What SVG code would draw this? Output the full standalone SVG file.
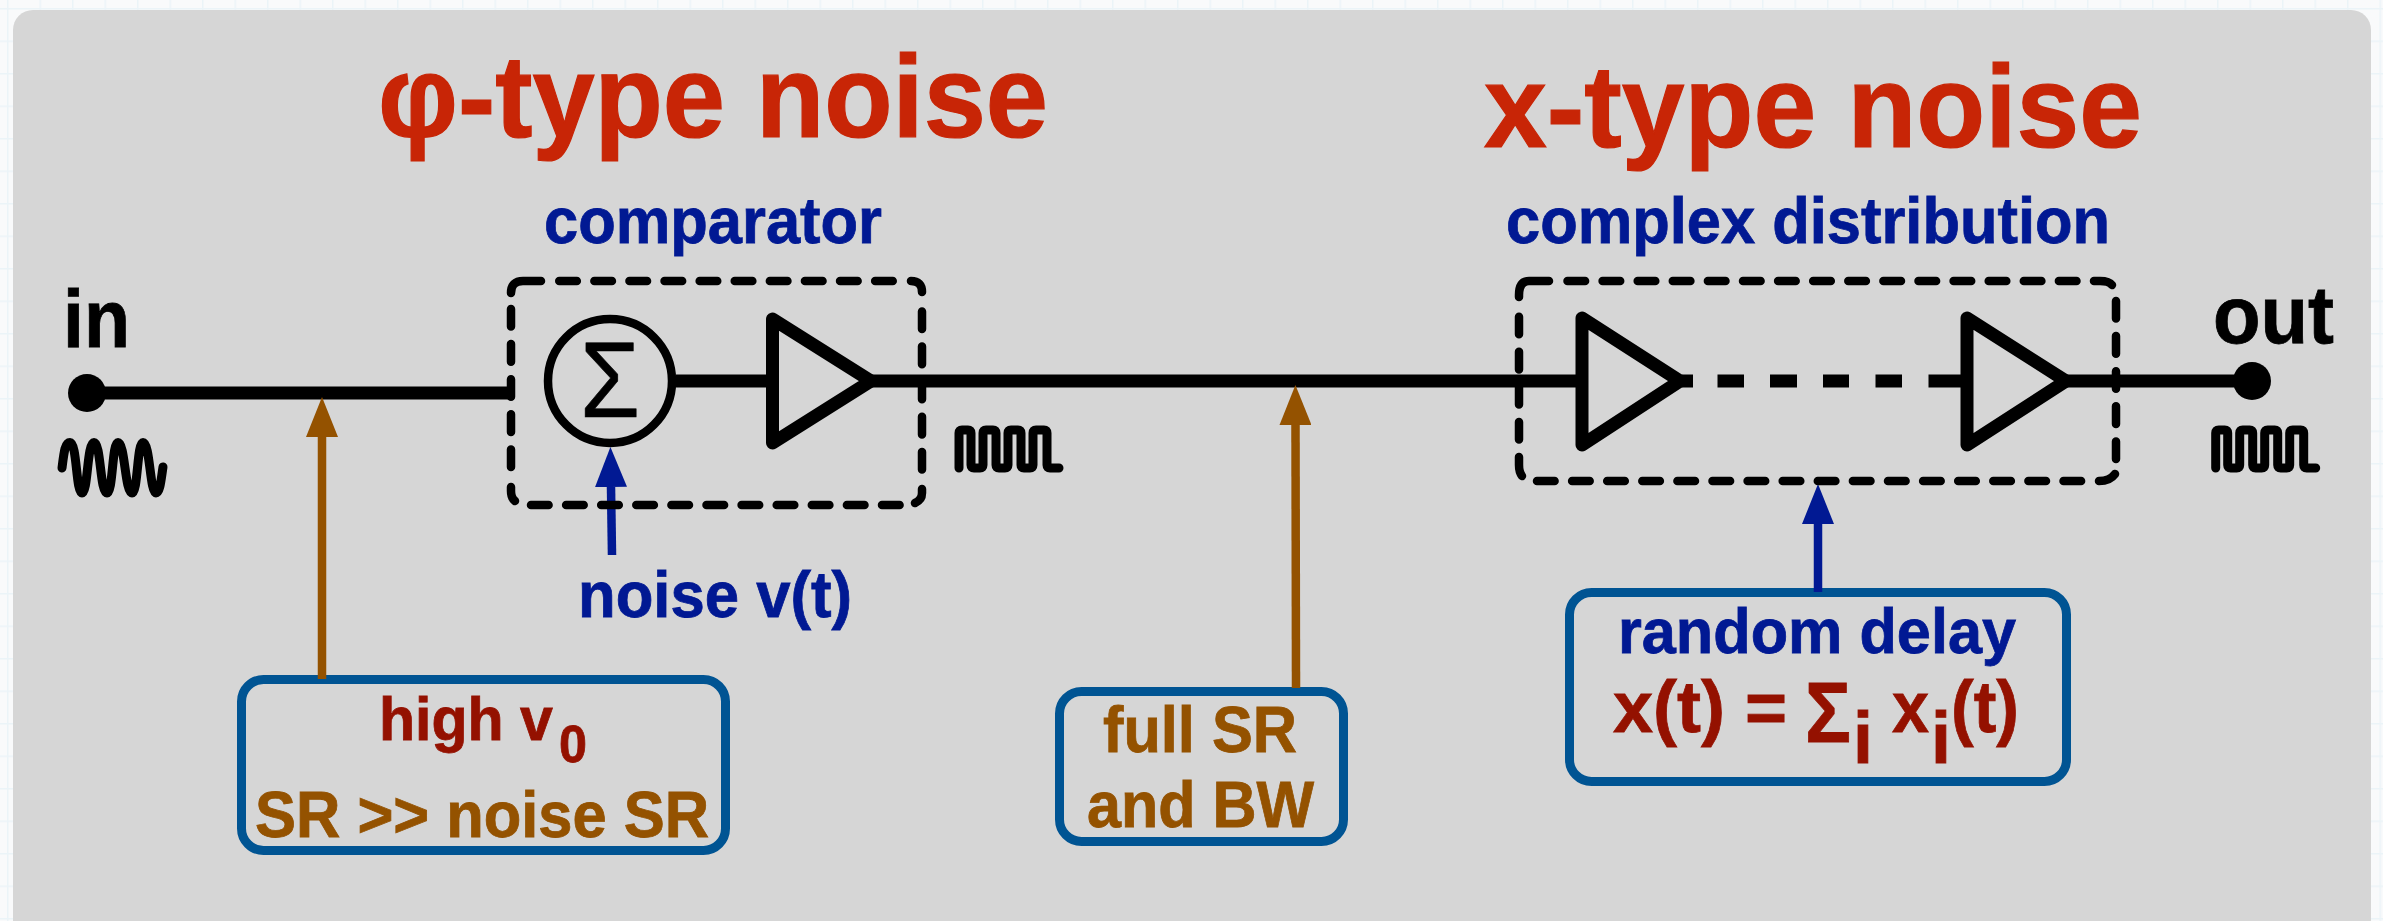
<svg xmlns="http://www.w3.org/2000/svg" width="2383" height="921" viewBox="0 0 2383 921">
<style>
text{font-family:"Liberation Sans",Arial,sans-serif;font-weight:700;stroke-width:.8}
.title{font-size:116px;fill:#c82506;stroke:#c82506;stroke-width:1.2}
.head{font-size:65px;fill:#011993;stroke:#011993}
.port{font-size:82px;fill:#000;stroke:#000}
.cayenne{fill:#941100;stroke:#941100}
.mocha{fill:#945200;stroke:#945200}
.midnight{fill:#011993;stroke:#011993}
.t62{font-size:65px}
.t70{font-size:73px}
.call{fill:none;stroke:#005493;stroke-width:9}
.wire{fill:none;stroke:#000;stroke-width:13}
.amp{fill:none;stroke:#000;stroke-width:13;stroke-linejoin:round}
.dash{fill:none;stroke:#000;stroke-width:8.5;stroke-linecap:round;stroke-dasharray:17.6 17.5}
.corner{fill:none;stroke:#000;stroke-width:8.5;stroke-linecap:round}
.wave{fill:none;stroke:#000;stroke-width:9;stroke-linecap:round;stroke-linejoin:round}
.arr-b{fill:none;stroke:#945200;stroke-width:8.5;marker-end:url(#headBrown)}
.arr-m{fill:none;stroke:#011993;stroke-width:8.5;marker-end:url(#headBlue)}
</style>
<defs>
<pattern id="grid" x="7" y="8" width="32.5" height="32.5" patternUnits="userSpaceOnUse">
<path d="M0 0H32.5M0 0V32.5" fill="none" stroke="#ebf4f8" stroke-width="3"/>
</pattern>
<marker id="headBrown" markerUnits="userSpaceOnUse" viewBox="0 0 40 32" markerWidth="40" markerHeight="32" refX="0" refY="16" orient="auto"><path d="M0 0L40 16L0 32Z" fill="#945200"/></marker>
<marker id="headBlue" markerUnits="userSpaceOnUse" viewBox="0 0 40 32" markerWidth="40" markerHeight="32" refX="0" refY="16" orient="auto"><path d="M0 0L40 16L0 32Z" fill="#011993"/></marker>
<path id="sq" class="wave" d="M959 468V433Q959 430 962 430H968Q971 430 971 433V465Q971 468 974 468H980Q983 468 983 465V433Q983 430 986 430H993Q996 430 996 433V465Q996 468 999 468H1005Q1008 468 1008 465V433Q1008 430 1011 430H1018Q1021 430 1021 433V465Q1021 468 1024 468H1030Q1033 468 1033 465V433Q1033 430 1036 430H1044Q1047 430 1047 433V465Q1047 468 1050 468H1059"/>
</defs>
<rect width="2383" height="921" fill="#f9fafb"/>
<rect width="2383" height="921" fill="url(#grid)"/>
<rect id="panel" x="13" y="10" width="2358" height="930" rx="20" fill="#d6d6d6"/>

<g id="title-phi"><text class="title" x="378" y="137" textLength="670" lengthAdjust="spacingAndGlyphs">φ-type noise</text></g>
<g id="title-x"><text class="title" x="1484" y="147" textLength="658" lengthAdjust="spacingAndGlyphs">x-type noise</text></g>
<g id="label-comparator"><text class="head" x="544" y="243" textLength="338" lengthAdjust="spacingAndGlyphs">comparator</text></g>
<g id="label-distribution"><text class="head" x="1506" y="243" textLength="604" lengthAdjust="spacingAndGlyphs">complex distribution</text></g>
<g id="label-noise"><text class="head" x="578" y="617" textLength="274" lengthAdjust="spacingAndGlyphs">noise v(t)</text></g>

<g id="box-high-v0">
<rect class="call" x="241.500" y="679.500" width="484" height="171" rx="22"/>
<text class="cayenne" x="379" y="740" textLength="174" lengthAdjust="spacingAndGlyphs" style="font-size:62px">high v</text>
<text class="cayenne" x="559" y="762" textLength="28" lengthAdjust="spacingAndGlyphs" style="font-size:52px">0</text>
<text class="mocha" x="255" y="837" textLength="454" lengthAdjust="spacingAndGlyphs" style="font-size:64px">SR &gt;&gt; noise SR</text>
</g>
<g id="box-full-sr">
<rect class="call" x="1059.500" y="691.500" width="284" height="150" rx="22"/>
<text class="t62 mocha" x="1103" y="752" textLength="194" lengthAdjust="spacingAndGlyphs">full SR</text>
<text class="t62 mocha" x="1087" y="827" textLength="227" lengthAdjust="spacingAndGlyphs">and BW</text>
</g>
<g id="box-random-delay">
<rect class="call" x="1569.500" y="592.500" width="497" height="189" rx="22"/>
<text class="t62 midnight" x="1618" y="653" textLength="398" lengthAdjust="spacingAndGlyphs" style="font-size:63px">random delay</text>
<text class="t70 cayenne" x="1613" y="732" textLength="174" lengthAdjust="spacingAndGlyphs">x(t) =</text>
<text class="t70 cayenne" x="1805" y="742" textLength="46" lengthAdjust="spacingAndGlyphs" style="font-size:86px">Σ</text>
<text class="t70 cayenne" x="1853" y="763" textLength="20" lengthAdjust="spacingAndGlyphs">i</text>
<text class="t70 cayenne" x="1892" y="732" textLength="37" lengthAdjust="spacingAndGlyphs">x</text>
<text class="t70 cayenne" x="1931" y="763" textLength="20" lengthAdjust="spacingAndGlyphs">i</text>
<text class="t70 cayenne" x="1951" y="732" textLength="68" lengthAdjust="spacingAndGlyphs">(t)</text>
</g>

<g id="connectors">
<path class="wire" d="M87 393H511"/>
<path class="wire" d="M676 381H772"/>
<path class="wire" d="M870 381H1582"/>
<path class="wire" d="M1682 381H1693M1717.500 381H1744M1770 381H1797M1823 381H1849M1875.500 381H1902M1928.500 381H1967"/>
<path class="wire" d="M2066 381H2252"/>
<path class="arr-b" d="M322 679V437"/>
<path class="arr-b" d="M1296 688L1295.500 425"/>
<path class="arr-m" d="M612 555L611 487"/>
<path class="arr-m" d="M1818 592V524"/>
</g>

<g id="port-in">
<circle cx="87" cy="393" r="19"/>
<text class="port" x="63" y="347" textLength="67" lengthAdjust="spacingAndGlyphs">in</text>
<path class="wave" d="M62 468C64 452 65 442.500 70 442.500C77 442.500 76 493 82 493C88 493 87 442.500 94 442.500C101 442.500 100 493 107 493C113 493 112 442.500 118 442.500C125 442.500 125 493 132 493C138 493 137 442.500 143 442.500C150 442.500 150 493 156 493C160 493 161 480 163 467"/>
</g>
<g id="port-out">
<circle cx="2252" cy="381" r="19"/>
<text class="port" x="2213" y="343" textLength="121" lengthAdjust="spacingAndGlyphs">out</text>
<use href="#sq" x="1256.700"/>
</g>
<g id="mid-wave"><use href="#sq"/></g>

<g id="sum">
<circle cx="610" cy="381" r="62" fill="none" stroke="#000" stroke-width="8.500"/>
<text x="580" y="417" textLength="60" lengthAdjust="spacingAndGlyphs" style="font-size:107px;font-weight:400;stroke:#000;stroke-width:.6">Σ</text>
</g>
<g id="amp-comparator"><path class="amp" d="M772.500 319V443L871 381Z"/></g>
<g id="amp-first"><path class="amp" d="M1582 318V445L1680 381Z"/></g>
<g id="amp-last"><path class="amp" d="M1967 318V445L2066 381Z"/></g>

<g id="frame-comparator">
<path class="corner" d="M511 293Q511 281 523 281H541M911 281Q922 281 922 292M922 489V493Q922 500 915 503M511 487V491Q511 498 515 501"/>
<path class="dash" d="M559.250 281H901M531 505H901M511 309V468M922 311.500V470"/>
</g>
<g id="frame-distribution">
<path class="corner" d="M1519 297V295Q1519 281 1529 281H1549M2094 281H2100Q2109 281 2112 285M2115 474Q2110 481 2099 481M1519 457V465Q1519 472 1522 476"/>
<path class="dash" d="M1567.500 281H2078M1537 481H2082M2116 301V459M1519 316.700V440"/>
</g>
</svg>
